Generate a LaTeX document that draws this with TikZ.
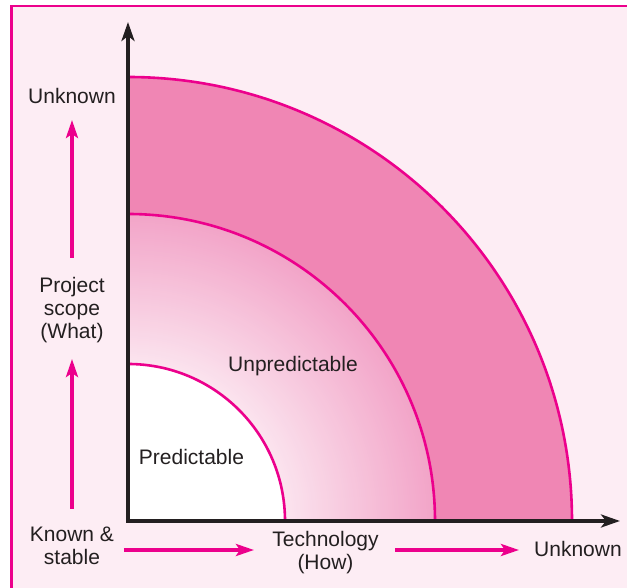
\documentclass[tikz,border=0pt]{standalone}
\usepackage{fontspec}
\setmainfont{Liberation Sans}
\usetikzlibrary{arrows.meta}
\definecolor{bgpink}{RGB}{253,237,244}
\definecolor{bandpink}{RGB}{240,134,180}
\definecolor{midpink}{RGB}{242,164,200}
\definecolor{magline}{RGB}{236,0,140}
\definecolor{axisdark}{RGB}{35,31,32}
\definecolor{textdark}{RGB}{35,31,32}
\tikzset{
  arcline/.style={magline, line width=2.6pt},
  axisline/.style={axisdark, line width=3.6pt, line join=miter,
    {Stealth[length=19pt,width=13pt,inset=5pt]}-{Stealth[length=19pt,width=13pt,inset=5pt]}},
  dirarrow/.style={magline, line width=4pt, -{Stealth[length=18pt,width=12pt,inset=4pt]}},
  lbl/.style={text=textdark, inner sep=0pt, align=center, font=\fontsize{21}{22.8}\selectfont},
}
\begin{document}
\begin{tikzpicture}[x=1pt,y=1pt]
  \useasboundingbox (-128,-67) rectangle (499,521);
  \clip (-128,-67) rectangle (499,521);
  \fill[white] (-128,-67) rectangle (499,521);
  % frame
  \draw[magline, line width=2.5pt, fill=bgpink] (-116.5,514.8) rectangle (540,-100);
  % outer band
  \fill[bandpink] (0,0) -- (444,0) arc[start angle=0, end angle=90, radius=444] -- cycle;
  \draw[arcline] (444,0) arc[start angle=0, end angle=90, radius=444];
  % middle region with radial gradient (concentric quarter discs)
  \foreach \k in {0,...,76}{
    \pgfmathsetmacro{\rr}{307-2*\k}
    \pgfmathsetmacro{\pp}{max(0,min(100,(\rr-95)/2.12))}
    \fill[midpink!\pp!white] (0,0) -- (\rr,0) arc[start angle=0, end angle=90, radius=\rr] -- cycle;
  }
  \draw[arcline] (307,0) arc[start angle=0, end angle=90, radius=307];
  % inner region
  \fill[white] (0,0) -- (157,0) arc[start angle=0, end angle=90, radius=157] -- cycle;
  \draw[arcline] (157,0) arc[start angle=0, end angle=90, radius=157];
  % axes
  \coordinate (ytip) at (0,499);
  \coordinate (origin) at (0,0);
  \coordinate (xtip) at (492,0);
  \draw[axisline] (ytip) -- (origin) -- (xtip);
  % labels
  \node[lbl, anchor=base] (unkY) at (-56,417) {Unknown};
  \node[lbl] (scope) at (-56,211) {Project\\scope\\(What)};
  \node[lbl] (known) at (-56,-25) {Known \&\\stable};
  \node[lbl] (tech) at (197.5,-31.5) {Technology\\(How)};
  \node[lbl, anchor=base] (unkX) at (450,-36) {Unknown};
  \node[lbl, anchor=base] (unpred) at (165,149) {Unpredictable};
  \node[lbl, anchor=base] (pred) at (63.5,56) {Predictable};
  % direction arrows
  \coordinate (a1s) at (-56,12);
  \coordinate (a1e) at (-56,162);
  \coordinate (a2s) at (-56,263);
  \coordinate (a2e) at (-56,401);
  \coordinate (b1s) at (-4,-29);
  \coordinate (b1e) at (126,-29);
  \coordinate (b2s) at (267,-29);
  \coordinate (b2e) at (391,-29);
  \draw[dirarrow] (a1s) -- (a1e);
  \draw[dirarrow] (a2s) -- (a2e);
  \draw[dirarrow] (b1s) -- (b1e);
  \draw[dirarrow] (b2s) -- (b2e);
\end{tikzpicture}
\end{document}
